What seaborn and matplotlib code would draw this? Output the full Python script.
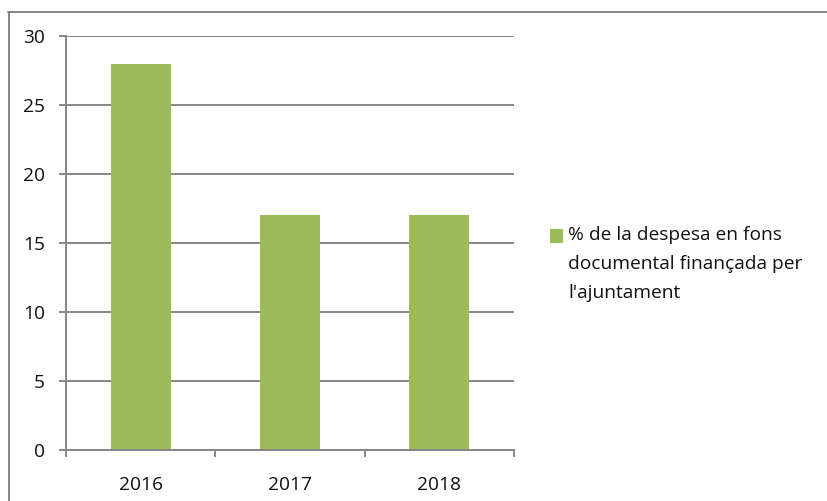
import matplotlib
matplotlib.use("Agg")
import matplotlib.pyplot as plt
import seaborn as sns
import pandas as pd
from matplotlib.patches import Rectangle
from matplotlib.lines import Line2D

# dades
years = ["2016", "2017", "2018"]
values = [28, 17, 17]
legend_lines = ["% de la despesa en fons", "documental finançada per", "l'ajuntament"]
y_ticks = [0, 5, 10, 15, 20, 25, 30]

bar_color = "#9BBB59"
grid_color = "#868686"
text_color = "#111111"
fsize = 13.8

sns.set_theme(style="white")
plt.rcParams['font.family'] = ['Open Sans', 'DejaVu Sans']

df = pd.DataFrame({"Any": years, "Valor": values})

fig = plt.figure(figsize=(8.27, 5.01), dpi=100)
ax = fig.add_axes([66 / 827, 1 - 450 / 501, (514 - 66) / 827, (450 - 36) / 501])

sns.barplot(data=df, x="Any", y="Valor", color=bar_color, width=0.4,
            saturation=1, ax=ax, edgecolor="none")

ax.set_xlim(-0.5, 2.5)
ax.set_ylim(0, 30)
ax.set_yticks(y_ticks)
ax.set_xlabel("")
ax.set_ylabel("")

# graella horitzontal
ax.yaxis.grid(True, color=grid_color, linewidth=1.4)
ax.set_axisbelow(True)

for s in ["top", "right"]:
    ax.spines[s].set_visible(False)
for s in ["left", "bottom"]:
    ax.spines[s].set_color(grid_color)
    ax.spines[s].set_linewidth(1.4)

ax.tick_params(axis="y", length=5, width=1.4, color=grid_color, pad=10,
               labelsize=fsize, labelcolor=text_color, direction="out", left=True)
ax.tick_params(axis="x", which="major", length=0, pad=19,
               labelsize=fsize, labelcolor=text_color)
ax.set_xticks([-0.5, 0.5, 1.5, 2.5], minor=True)
ax.tick_params(axis="x", which="minor", length=5, width=1.4, color=grid_color,
               direction="out", bottom=True)

# llegenda
sq = Rectangle((550 / 827, 1 - 243 / 501), 13 / 827, 14 / 501,
               transform=fig.transFigure, facecolor=bar_color, edgecolor="none")
fig.patches.append(sq)
for i, line in enumerate(legend_lines):
    fig.text(568 / 827, 1 - (235 + 29 * i) / 501, line, fontsize=fsize,
             color=text_color, va="center", ha="left")

# marc
fig.add_artist(Line2D([8 / 827, 1], [1 - 11.5 / 501] * 2, transform=fig.transFigure,
                      color=grid_color, linewidth=1.4))
fig.add_artist(Line2D([8.5 / 827] * 2, [0, 1 - 11.5 / 501], transform=fig.transFigure,
                      color=grid_color, linewidth=1.4))

fig.savefig("out.png", dpi=100)
